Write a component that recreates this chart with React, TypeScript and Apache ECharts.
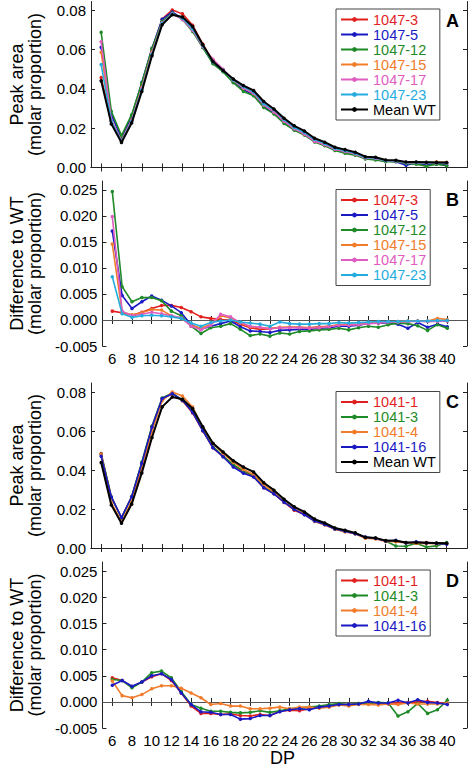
import React, { useEffect, useRef } from "react";
import * as echarts from "echarts";

const DP = [6,7,8,9,10,11,12,13,14,15,16,17,18,19,20,21,22,23,24,25,26,27,28,29,30,31,32,33,34,35,36,37,38,39,40];
const DP_TICKS = [6,8,10,12,14,16,18,20,22,24,26,28,30,32,34,36,38,40];
const AREA_TICKS = [0, 0.02, 0.04, 0.06, 0.08];
const DIFF_TICKS = [-0.005, 0, 0.005, 0.01, 0.015, 0.02, 0.025];

// Panel A: peak area (molar proportion)
const meanWT = [0.0441,0.0222,0.0127,0.0226,0.0387,0.0569,0.0727,0.0778,0.0766,0.0718,0.0625,0.0540,0.0494,0.0450,0.0417,0.0392,0.0336,0.0298,0.0251,0.0212,0.0186,0.0149,0.0129,0.0103,0.0091,0.0078,0.0055,0.0052,0.0038,0.0037,0.0028,0.0028,0.0027,0.0026,0.0025];
const a1047_3 = [0.0458,0.0236,0.0136,0.0241,0.0409,0.0597,0.0755,0.0802,0.0782,0.0724,0.0628,0.0541,0.0494,0.0442,0.0402,0.0374,0.0319,0.0283,0.0237,0.0198,0.0171,0.0136,0.0117,0.0093,0.0081,0.0069,0.0049,0.0046,0.0034,0.0033,0.0025,0.0026,0.0024,0.0024,0.0023];
const a1047_5 = [0.0612,0.0269,0.0149,0.0261,0.0433,0.0607,0.0754,0.0792,0.0757,0.0700,0.0613,0.0533,0.0492,0.0437,0.0396,0.0370,0.0312,0.0278,0.0232,0.0194,0.0168,0.0133,0.0114,0.0091,0.0079,0.0068,0.0049,0.0046,0.0033,0.0029,0.0012,0.0023,0.0013,0.0018,0.0012];
const a1047_12 = [0.0688,0.0286,0.0162,0.0269,0.0430,0.0606,0.0744,0.0786,0.0754,0.0692,0.0610,0.0528,0.0487,0.0432,0.0387,0.0365,0.0305,0.0273,0.0224,0.0190,0.0165,0.0130,0.0111,0.0087,0.0072,0.0063,0.0043,0.0038,0.0029,0.0031,0.0021,0.0017,0.0007,0.0017,0.0009];
const a1047_15 = [0.0587,0.0237,0.0137,0.0240,0.0407,0.0588,0.0735,0.0781,0.0756,0.0702,0.0617,0.0548,0.0498,0.0444,0.0404,0.0377,0.0320,0.0284,0.0237,0.0198,0.0171,0.0135,0.0117,0.0094,0.0082,0.0070,0.0049,0.0047,0.0034,0.0034,0.0026,0.0026,0.0025,0.0029,0.0026];
const a1047_17 = [0.0640,0.0239,0.0135,0.0237,0.0402,0.0581,0.0735,0.0782,0.0754,0.0699,0.0615,0.0551,0.0500,0.0445,0.0405,0.0378,0.0319,0.0283,0.0236,0.0197,0.0170,0.0134,0.0116,0.0093,0.0081,0.0069,0.0048,0.0046,0.0034,0.0033,0.0025,0.0025,0.0024,0.0023,0.0023];
const a1047_23 = [0.0524,0.0234,0.0132,0.0234,0.0396,0.0577,0.0733,0.0781,0.0760,0.0706,0.0620,0.0538,0.0494,0.0446,0.0411,0.0384,0.0324,0.0294,0.0244,0.0204,0.0178,0.0142,0.0122,0.0098,0.0085,0.0073,0.0051,0.0049,0.0035,0.0034,0.0026,0.0026,0.0025,0.0025,0.0024];

// Panel B: difference to WT
const b1047_3 = [0.0017,0.0014,0.0009,0.0015,0.0022,0.0028,0.0028,0.0024,0.0016,0.0006,0.0003,0.0001,0.0000,-0.0008,-0.0015,-0.0018,-0.0017,-0.0015,-0.0014,-0.0014,-0.0015,-0.0013,-0.0012,-0.0010,-0.0010,-0.0009,-0.0006,-0.0006,-0.0004,-0.0004,-0.0003,-0.0002,-0.0003,-0.0002,-0.0002];
const b1047_5 = [0.0171,0.0047,0.0022,0.0035,0.0046,0.0038,0.0027,0.0014,-0.0009,-0.0018,-0.0012,-0.0007,-0.0002,-0.0013,-0.0021,-0.0022,-0.0024,-0.0020,-0.0019,-0.0018,-0.0018,-0.0016,-0.0015,-0.0012,-0.0012,-0.0010,-0.0006,-0.0006,-0.0005,-0.0008,-0.0016,-0.0005,-0.0014,-0.0008,-0.0013];
const b1047_12 = [0.0247,0.0064,0.0035,0.0043,0.0043,0.0037,0.0017,0.0008,-0.0012,-0.0026,-0.0015,-0.0012,-0.0007,-0.0018,-0.0030,-0.0027,-0.0031,-0.0025,-0.0027,-0.0022,-0.0021,-0.0019,-0.0018,-0.0016,-0.0019,-0.0015,-0.0012,-0.0014,-0.0009,-0.0006,-0.0007,-0.0011,-0.0020,-0.0009,-0.0016];
const b1047_15 = [0.0146,0.0015,0.0010,0.0014,0.0020,0.0019,0.0008,0.0003,-0.0010,-0.0016,-0.0008,0.0008,0.0004,-0.0006,-0.0013,-0.0015,-0.0016,-0.0014,-0.0014,-0.0014,-0.0015,-0.0014,-0.0012,-0.0009,-0.0009,-0.0008,-0.0006,-0.0005,-0.0004,-0.0003,-0.0002,-0.0002,-0.0002,0.0003,0.0001];
const b1047_17 = [0.0199,0.0017,0.0008,0.0011,0.0015,0.0012,0.0008,0.0004,-0.0012,-0.0019,-0.0010,0.0011,0.0006,-0.0005,-0.0012,-0.0014,-0.0017,-0.0015,-0.0015,-0.0015,-0.0016,-0.0015,-0.0013,-0.0010,-0.0010,-0.0009,-0.0007,-0.0006,-0.0004,-0.0004,-0.0003,-0.0003,-0.0003,-0.0003,-0.0002];
const b1047_23 = [0.0083,0.0012,0.0005,0.0008,0.0009,0.0008,0.0006,0.0003,-0.0006,-0.0012,-0.0005,-0.0002,0.0000,-0.0004,-0.0006,-0.0008,-0.0012,-0.0004,-0.0007,-0.0008,-0.0008,-0.0007,-0.0007,-0.0005,-0.0006,-0.0005,-0.0004,-0.0003,-0.0003,-0.0003,-0.0002,-0.0002,-0.0002,-0.0001,-0.0001];

// Panel C: peak area (molar proportion)
const c1041_1 = [0.0487,0.0263,0.0156,0.0264,0.0435,0.0623,0.0768,0.0795,0.0758,0.0696,0.0603,0.0516,0.0471,0.0424,0.0390,0.0368,0.0310,0.0280,0.0235,0.0195,0.0173,0.0139,0.0122,0.0098,0.0086,0.0075,0.0053,0.0050,0.0036,0.0035,0.0027,0.0028,0.0028,0.0025,0.0022];
const c1041_3 = [0.0484,0.0263,0.0154,0.0264,0.0443,0.0628,0.0773,0.0798,0.0761,0.0706,0.0607,0.0522,0.0474,0.0429,0.0397,0.0375,0.0316,0.0281,0.0238,0.0200,0.0176,0.0141,0.0124,0.0100,0.0086,0.0075,0.0053,0.0051,0.0036,0.0010,0.0009,0.0025,0.0005,0.0011,0.0028];
const c1041_4 = [0.0481,0.0234,0.0135,0.0240,0.0412,0.0600,0.0758,0.0804,0.0783,0.0726,0.0620,0.0537,0.0486,0.0442,0.0404,0.0379,0.0324,0.0288,0.0238,0.0202,0.0176,0.0137,0.0119,0.0097,0.0083,0.0073,0.0050,0.0046,0.0034,0.0032,0.0026,0.0024,0.0023,0.0022,0.0023];
const c1041_16 = [0.0473,0.0263,0.0157,0.0264,0.0437,0.0623,0.0770,0.0795,0.0761,0.0699,0.0605,0.0516,0.0470,0.0417,0.0385,0.0366,0.0310,0.0279,0.0236,0.0199,0.0171,0.0139,0.0121,0.0098,0.0086,0.0074,0.0056,0.0050,0.0036,0.0040,0.0026,0.0032,0.0026,0.0024,0.0020];

// Panel D: difference to WT
const d1041_1 = [0.0046,0.0041,0.0029,0.0038,0.0048,0.0054,0.0041,0.0017,-0.0008,-0.0022,-0.0022,-0.0024,-0.0023,-0.0026,-0.0027,-0.0024,-0.0026,-0.0018,-0.0016,-0.0017,-0.0013,-0.0010,-0.0007,-0.0005,-0.0005,-0.0003,-0.0002,-0.0002,-0.0002,-0.0002,-0.0001,0.0000,0.0001,-0.0001,-0.0003];
const d1041_3 = [0.0043,0.0041,0.0027,0.0038,0.0056,0.0059,0.0046,0.0020,-0.0005,-0.0012,-0.0018,-0.0018,-0.0020,-0.0021,-0.0020,-0.0017,-0.0020,-0.0017,-0.0013,-0.0012,-0.0010,-0.0008,-0.0005,-0.0003,-0.0005,-0.0003,-0.0002,-0.0001,-0.0002,-0.0027,-0.0019,-0.0003,-0.0022,-0.0015,0.0003];
const d1041_4 = [0.0040,0.0012,0.0008,0.0014,0.0025,0.0031,0.0031,0.0026,0.0017,0.0008,-0.0005,-0.0003,-0.0008,-0.0008,-0.0013,-0.0013,-0.0012,-0.0010,-0.0013,-0.0010,-0.0010,-0.0012,-0.0010,-0.0006,-0.0008,-0.0005,-0.0005,-0.0006,-0.0004,-0.0005,-0.0002,-0.0004,-0.0004,-0.0004,-0.0002];
const d1041_16 = [0.0032,0.0041,0.0030,0.0038,0.0050,0.0054,0.0043,0.0017,-0.0005,-0.0019,-0.0020,-0.0024,-0.0024,-0.0033,-0.0032,-0.0026,-0.0026,-0.0019,-0.0015,-0.0013,-0.0015,-0.0010,-0.0008,-0.0005,-0.0005,-0.0004,0.0001,-0.0002,-0.0002,0.0003,-0.0002,0.0004,-0.0001,-0.0002,-0.0005];

const RED = "#e21f1f";
const BLUE = "#1a1ac4";
const GREEN = "#1f8a28";
const ORANGE = "#f07c2c";
const MAGENTA = "#df5cc0";
const CYAN = "#25acdf";
const BLACK = "#000000";

const SANS = "'Liberation Sans', Arial, sans-serif";

type S = { name: string; color: string; values: number[] };

const panelA: S[] = [
  { name: "1047-3", color: RED, values: a1047_3 },
  { name: "1047-5", color: BLUE, values: a1047_5 },
  { name: "1047-12", color: GREEN, values: a1047_12 },
  { name: "1047-15", color: ORANGE, values: a1047_15 },
  { name: "1047-17", color: MAGENTA, values: a1047_17 },
  { name: "1047-23", color: CYAN, values: a1047_23 },
  { name: "Mean WT", color: BLACK, values: meanWT },
];
const panelB: S[] = [
  { name: "1047-3", color: RED, values: b1047_3 },
  { name: "1047-5", color: BLUE, values: b1047_5 },
  { name: "1047-12", color: GREEN, values: b1047_12 },
  { name: "1047-15", color: ORANGE, values: b1047_15 },
  { name: "1047-17", color: MAGENTA, values: b1047_17 },
  { name: "1047-23", color: CYAN, values: b1047_23 },
];
const panelC: S[] = [
  { name: "1041-1", color: RED, values: c1041_1 },
  { name: "1041-3", color: GREEN, values: c1041_3 },
  { name: "1041-4", color: ORANGE, values: c1041_4 },
  { name: "1041-16", color: BLUE, values: c1041_16 },
  { name: "Mean WT", color: BLACK, values: meanWT },
];
const panelD: S[] = [
  { name: "1041-1", color: RED, values: d1041_1 },
  { name: "1041-3", color: GREEN, values: d1041_3 },
  { name: "1041-4", color: ORANGE, values: d1041_4 },
  { name: "1041-16", color: BLUE, values: d1041_16 },
];

type Panel = {
  series: S[]; top: number; height: number; min: number; max: number;
  ticks: number[]; digits: number; name: string; xLabels: boolean;
  letter: string; legendTop: number; itemH: number; zero: boolean;
};

const panels: Panel[] = [
  { series: panelA, top: 1.5, height: 166, min: 0, max: 0.0845, ticks: AREA_TICKS, digits: 2, name: "Peak area\n(molar proportion)", xLabels: false, letter: "A", legendTop: 9, itemH: 12.9, zero: false },
  { series: panelB, top: 181, height: 165, min: -0.005, max: 0.0267, ticks: DIFF_TICKS, digits: 3, name: "Difference to WT\n(molar proportion)", xLabels: true, letter: "B", legendTop: 189.5, itemH: 12.9, zero: true },
  { series: panelC, top: 383, height: 165, min: 0, max: 0.085, ticks: AREA_TICKS, digits: 2, name: "Peak area\n(molar proportion)", xLabels: false, letter: "C", legendTop: 391.5, itemH: 13.2, zero: false },
  { series: panelD, top: 562, height: 166, min: -0.005, max: 0.0268, ticks: DIFF_TICKS, digits: 3, name: "Difference to WT\n(molar proportion)", xLabels: true, letter: "D", legendTop: 570, itemH: 13.5, zero: true },
];

const GRID_LEFT = 82;
const GRID_WIDTH = 385;
const AXIS_COLOR = "#222";

function buildOption() {
  const grid: any[] = [];
  const xAxis: any[] = [];
  const yAxis: any[] = [];
  const series: any[] = [];
  const legend: any[] = [];
  const graphic: any[] = [];

  panels.forEach((p, gi) => {
    grid.push({ left: GRID_LEFT, top: p.top, width: GRID_WIDTH, height: p.height, containLabel: false });
    const line = { show: true, lineStyle: { color: AXIS_COLOR, width: 1 } };
    const tickX = { show: true, inside: true, length: 4, customValues: DP_TICKS, lineStyle: { color: AXIS_COLOR, width: 1 } };
    const tickY = { show: true, inside: true, length: 4, customValues: p.ticks, lineStyle: { color: AXIS_COLOR, width: 1 } };
    xAxis.push({
      type: "value", gridIndex: gi, position: "bottom", min: 5, max: 42,
      axisLine: line, axisTick: tickX, splitLine: { show: false },
      axisLabel: p.xLabels
        ? { show: true, customValues: DP_TICKS, margin: 5, color: "#000", fontSize: 15, fontFamily: SANS }
        : { show: false },
    });
    xAxis.push({
      type: "value", gridIndex: gi, position: "top", min: 5, max: 42,
      axisLine: line, axisTick: tickX, splitLine: { show: false }, axisLabel: { show: false },
    });
    yAxis.push({
      type: "value", gridIndex: gi, position: "left", min: p.min, max: p.max,
      axisLine: line, axisTick: tickY, splitLine: { show: false },
      axisLabel: {
        show: true, customValues: p.ticks, margin: 5, color: "#000", fontSize: 15, fontFamily: SANS,
        formatter: (v: number) => v.toFixed(p.digits),
      },
      name: p.name, nameLocation: "middle", nameRotate: 90, nameGap: 47,
      nameTextStyle: { fontSize: 18, lineHeight: 18, color: "#000", fontFamily: SANS },
    });
    yAxis.push({
      type: "value", gridIndex: gi, position: "right", min: p.min, max: p.max,
      axisLine: line, axisTick: tickY, splitLine: { show: false }, axisLabel: { show: false },
    });

    p.series.forEach((s, si) => {
      const item: any = {
        type: "line", name: s.name, xAxisIndex: gi * 2, yAxisIndex: gi * 2,
        data: DP.map((d, i) => [d, s.values[i]]),
        symbol: "circle", symbolSize: 3.5, showSymbol: true,
        lineStyle: { color: s.color, width: s.color === BLACK ? 2 : 1.6 },
        itemStyle: { color: s.color },
        z: 2 + si,
      };
      if (si === 0 && p.zero) {
        item.markLine = {
          silent: true, symbol: ["none", "none"], z: 1,
          label: { show: false },
          lineStyle: { color: "#555", width: 1, type: "solid" },
          data: [{ yAxis: 0 }],
        };
      }
      series.push(item);
    });

    legend.push({
      orient: "vertical", left: 336, top: p.legendTop,
      itemWidth: 27, itemHeight: 6, itemGap: 0,
      padding: [3, 4, 3, 4],
      borderColor: "#444", borderWidth: 1,
      backgroundColor: "#fff",
      selectedMode: false,
      textStyle: { fontSize: 14.5, lineHeight: p.itemH, fontFamily: SANS },
      data: p.series.map((s) => ({ name: s.name, textStyle: { color: s.color } })),
    });

    graphic.push({
      type: "text", left: 446, top: p.top + 10,
      style: { text: p.letter, fontSize: 18, fontWeight: "bold", fontFamily: SANS, fill: "#000" },
    });
  });

  graphic.push({
    type: "text", left: 270, top: 749,
    style: { text: "DP", fontSize: 18, lineHeight: 18, fontFamily: SANS, fill: "#000" },
  });

  return { animation: false, backgroundColor: "#fff", grid, xAxis, yAxis, series, legend, graphic };
}

export default function App() {
  const ref = useRef<HTMLDivElement>(null);
  useEffect(() => {
    if (!ref.current) return;
    const chart = echarts.init(ref.current, undefined, { renderer: "svg" });
    chart.setOption(buildOption() as any);
    return () => chart.dispose();
  }, []);
  return <div ref={ref} style={{ position: "absolute", left: 0, top: 0, width: 472, height: 768 }} />;
}
